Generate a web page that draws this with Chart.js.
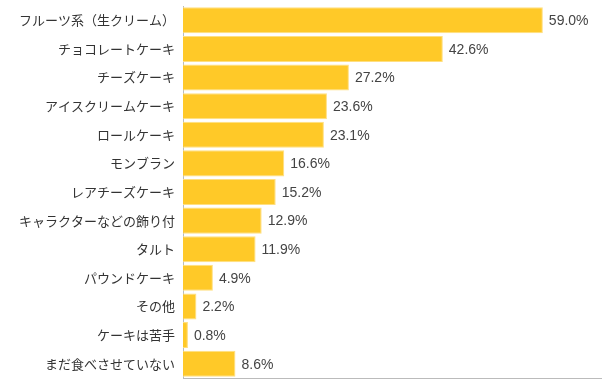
<!DOCTYPE html>
<html>
<head>
<meta charset="utf-8">
<script src="https://cdn.jsdelivr.net/npm/chart.js@4"></script>
<style>
html,body{margin:0;padding:0;background:#fff;}
#wrap{width:602px;height:386px;position:relative;}
</style>
</head>
<body>
<div id="wrap"><canvas id="c"></canvas></div>
<script>
const categories = ["フルーツ系（生クリーム）","チョコレートケーキ","チーズケーキ","アイスクリームケーキ","ロールケーキ","モンブラン","レアチーズケーキ","キャラクターなどの飾り付","タルト","パウンドケーキ","その他","ケーキは苦手","まだ食べさせていない"];
const values = [59.0,42.6,27.2,23.6,23.1,16.6,15.2,12.9,11.9,4.9,2.2,0.8,8.6];

const valueLabels = {
  id:'valueLabels',
  afterDatasetsDraw(chart){
    const ctx = chart.ctx;
    const meta = chart.getDatasetMeta(0);
    ctx.save();
    ctx.font = '14px "Liberation Sans", Arial, sans-serif';
    ctx.fillStyle = '#444';
    ctx.textAlign = 'left';
    ctx.textBaseline = 'middle';
    meta.data.forEach((bar,i)=>{
      ctx.fillText(values[i].toFixed(1)+'%', bar.x+6, bar.y+1);
    });
    ctx.restore();
  }
};

new Chart(document.getElementById('c'),{
  type:'bar',
  data:{labels:categories,datasets:[{data:values,backgroundColor:'#FFC928',borderColor:'#FFDF80',borderWidth:1,barPercentage:0.91,categoryPercentage:1}]},
  options:{
    indexAxis:'y',
    responsive:true,maintainAspectRatio:false,animation:false,
    layout:{padding:{top:6,left:0,right:0,bottom:0}},
    plugins:{legend:{display:false},tooltip:{enabled:false}},
    scales:{
      x:{min:0,max:68.7,ticks:{display:false},grid:{display:false,drawTicks:false},border:{display:true,color:'#bbb',width:1},
         afterFit(s){s.height=8;s.paddingLeft=0;s.paddingRight=0;}},
      y:{ticks:{color:'#333',padding:8,font:{family:'"Noto Sans CJK JP", sans-serif',size:13}},
         grid:{display:false,drawTicks:false},border:{display:true,color:'#bbb',width:1},
         afterFit(s){s.width=183;s.paddingTop=0;s.paddingBottom=0;}}
    }
  },
  plugins:[valueLabels]
});
</script>
</body>
</html>
